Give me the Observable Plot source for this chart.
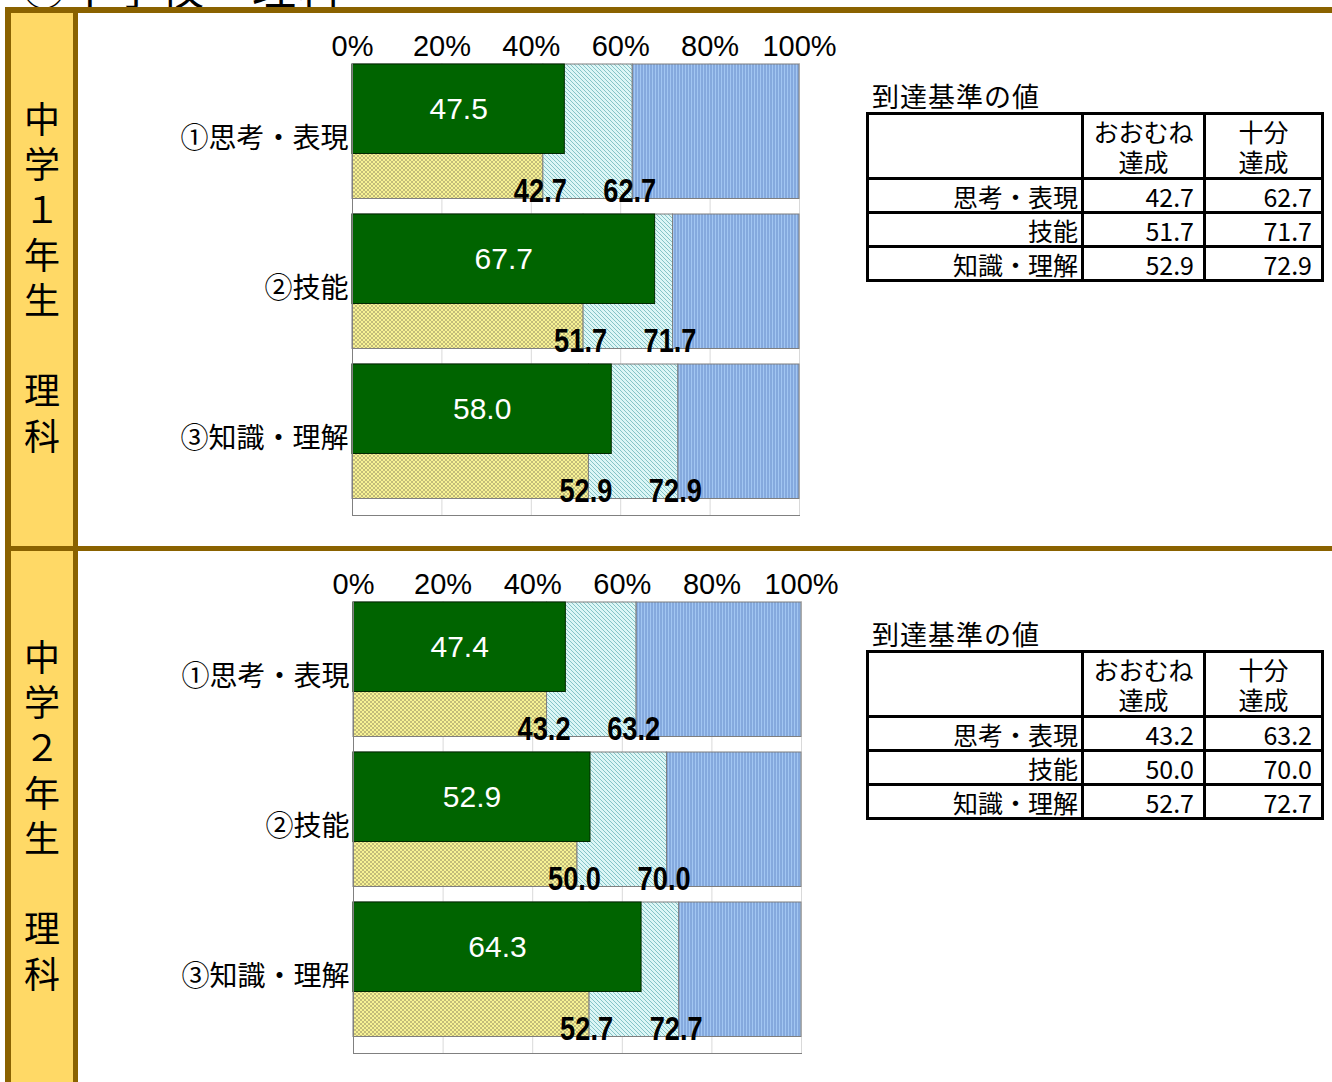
<!DOCTYPE html>
<html><head><meta charset="utf-8">
<script src="https://cdn.jsdelivr.net/npm/d3@7"></script>
<script src="https://cdn.jsdelivr.net/npm/@observablehq/plot@0.6"></script>
<style>
body{margin:0;background:#fff;}
#page{position:relative;width:1332px;height:1082px;overflow:hidden;background:#fff;font-family:"Noto Sans CJK JP",sans-serif;color:#000;}
.abs{position:absolute;}
.brown{position:absolute;background:#8a6200;}
.vtext{position:absolute;width:62px;font-size:36px;line-height:62px;writing-mode:vertical-rl;text-orientation:upright;letter-spacing:9.3px;white-space:nowrap;}
.ttl{position:absolute;font-size:27px;line-height:30px;letter-spacing:1px;white-space:nowrap;}
table.crit{position:absolute;border-collapse:collapse;table-layout:fixed;width:455px;font-size:25px;}
table.crit td{border:3px solid #000;padding:0;line-height:28px;white-space:nowrap;}
table.crit td.h{text-align:center;line-height:30px;}
table.crit td.l{text-align:right;padding-right:3px;}
table.crit td.n{text-align:right;padding-right:9px;}
</style></head>
<body>
<svg width="0" height="0" style="position:absolute">
<defs>
<pattern id="patYellow" width="4" height="4" patternUnits="userSpaceOnUse">
<rect width="4" height="4" fill="#f7f294"/>
<path d="M0,0L4,4M4,0L0,4" stroke="#aba56e" stroke-width="0.7"/>
</pattern>
<pattern id="patCyan" width="4" height="4" patternUnits="userSpaceOnUse">
<rect width="4" height="4" fill="#dcf6f6"/>
<path d="M0,0L4,4M-1,3L1,5M3,-1L5,1" stroke="#6fb8bb" stroke-width="0.8"/>
</pattern>
<pattern id="patBlue" width="3" height="4" patternUnits="userSpaceOnUse">
<rect width="3" height="4" fill="#a2c6f2"/>
<path d="M1,0L1,4" stroke="#5f84c4" stroke-width="0.9"/>
</pattern>
</defs>
</svg>
<div id="page"></div>
<script>
// ---- data ----
const categories = ["①思考・表現", "②技能", "③知識・理解"];
const tableRowLabels = ["思考・表現", "技能", "知識・理解"];
const tableHeaders = [["おおむね", "達成"], ["十分", "達成"]];
const xTicks = [0, 20, 40, 60, 80, 100];

const grade1Scores = [47.5, 67.7, 58.0];
const grade1Omomune = [42.7, 51.7, 52.9];
const grade1Juubun = [62.7, 71.7, 72.9];

const grade2Scores = [47.4, 52.9, 64.3];
const grade2Omomune = [43.2, 50.0, 52.7];
const grade2Juubun = [63.2, 70.0, 72.7];

const grade1Label = "中学１年生　理科";
const grade2Label = "中学２年生　理科";
const tableTitle = "到達基準の値";
const pageTitle = "③中学校　理科";

// ---- layout ----
const page = document.getElementById("page");
function div(cls, style, html) {
  const d = document.createElement("div");
  if (cls) d.className = cls;
  Object.assign(d.style, style);
  if (html != null) d.innerHTML = html;
  page.appendChild(d);
  return d;
}

// cut-off page title
div("abs", {left: "22px", top: "-36px", fontSize: "44px", lineHeight: "44px", whiteSpace: "nowrap", letterSpacing: "2px"}, pageTitle);

// frame
div("abs", {left: "11px", top: "13px", width: "62px", height: "1069px", background: "#ffd966"});
div("brown", {left: "5px", top: "7px", width: "1327px", height: "6px"});
div("brown", {left: "5px", top: "7px", width: "6px", height: "1075px"});
div("brown", {left: "73px", top: "7px", width: "5px", height: "1075px"});
div("brown", {left: "5px", top: "546px", width: "1327px", height: "5px"});

// vertical labels
div("vtext", {left: "11px", top: "101px"}, grade1Label);
div("vtext", {left: "11px", top: "639px"}, grade2Label);

function makeChart(scores, omomune, juubun, width, plotWidth) {
  const rows = categories.map((c, i) => ({cat: c, value: scores[i], lo: omomune[i], hi: juubun[i]}));
  const gap = 15.5, lower = 45;
  const segStroke = {stroke: "#7f7f7f", strokeWidth: 1};
  const thrFont = {fill: "black", fontSize: 33, fontWeight: "bold", dy: 52, dx: -3, fontFamily: "Liberation Sans, Arial, sans-serif"};
  const svg = Plot.plot({
    width: width,
    height: 500,
    marginLeft: 182,
    marginRight: width - 182 - plotWidth,
    marginTop: 43,
    marginBottom: 5,
    style: {background: "none", overflow: "visible", fontFamily: "Noto Sans CJK JP"},
    x: {domain: [0, 100], axis: null},
    y: {domain: categories, padding: 0, axis: null},
    marks: [
      Plot.ruleX([20, 40, 60, 80, 100], {stroke: "#d9d9d9"}),
      Plot.barX(rows, {y: "cat", x1: 0, x2: "lo", fill: "url(#patYellow)", ...segStroke, insetBottom: gap}),
      Plot.barX(rows, {y: "cat", x1: "lo", x2: "hi", fill: "url(#patCyan)", ...segStroke, insetBottom: gap}),
      Plot.barX(rows, {y: "cat", x1: "hi", x2: 100, fill: "url(#patBlue)", ...segStroke, insetBottom: gap}),
      Plot.barX(rows, {y: "cat", x1: 0, x2: "value", fill: "#006400", stroke: "#002800", strokeWidth: 1, insetBottom: gap + lower}),
      Plot.text(rows, {x: d => d.value / 2, y: "cat", text: d => d.value.toFixed(1), fill: "white", fontSize: 30, dy: -30, fontFamily: "Liberation Sans, Arial, sans-serif", letterSpacing: "3px"}),
      Plot.text(rows, {x: "lo", y: "cat", text: d => d.lo.toFixed(1), ...thrFont}),
      Plot.text(rows, {x: "hi", y: "cat", text: d => d.hi.toFixed(1), ...thrFont}),
      Plot.ruleX([0], {stroke: "#808080"}),
      Plot.frame({anchor: "bottom", stroke: "#808080"}),
      Plot.axisX({anchor: "top", ticks: xTicks, tickFormat: d => d + "%", tickSize: 0, tickPadding: 8, fontSize: 29, fontFamily: "Liberation Sans, Arial, sans-serif", label: null}),
      Plot.axisY({anchor: "left", tickSize: 0, tickPadding: 4, fontSize: 28, label: null})
    ]
  });
  // condense the bold threshold labels like the narrow font of the original
  svg.querySelectorAll('g[font-weight="bold"] text').forEach(t => {
    t.setAttribute("textLength", "53");
    t.setAttribute("lengthAdjust", "spacingAndGlyphs");
  });
  return svg;
}

const c1 = makeChart(grade1Scores, grade1Omomune, grade1Juubun, 680, 447);
Object.assign(c1.style, {position: "absolute", left: "170px", top: "20px"});
page.appendChild(c1);
const c2 = makeChart(grade2Scores, grade2Omomune, grade2Juubun, 681, 448);
Object.assign(c2.style, {position: "absolute", left: "171px", top: "558px"});
page.appendChild(c2);

function makeTable(top, omomune, juubun) {
  div("ttl", {left: "872px", top: (top - 31) + "px"}, tableTitle);
  const t = document.createElement("table");
  t.className = "crit";
  t.style.left = "866px";
  t.style.top = top + "px";
  let html = '<colgroup><col style="width:215px"><col style="width:122px"><col style="width:118px"></colgroup>';
  html += '<tr style="height:65px"><td></td>' + tableHeaders.map(h => '<td class="h">' + h.join("<br>") + "</td>").join("") + "</tr>";
  tableRowLabels.forEach((lab, i) => {
    html += '<tr style="height:34px"><td class="l">' + lab + '</td><td class="n">' + omomune[i].toFixed(1) + '</td><td class="n">' + juubun[i].toFixed(1) + "</td></tr>";
  });
  t.innerHTML = html;
  page.appendChild(t);
}
makeTable(112, grade1Omomune, grade1Juubun);
makeTable(650, grade2Omomune, grade2Juubun);
</script>
</body></html>
